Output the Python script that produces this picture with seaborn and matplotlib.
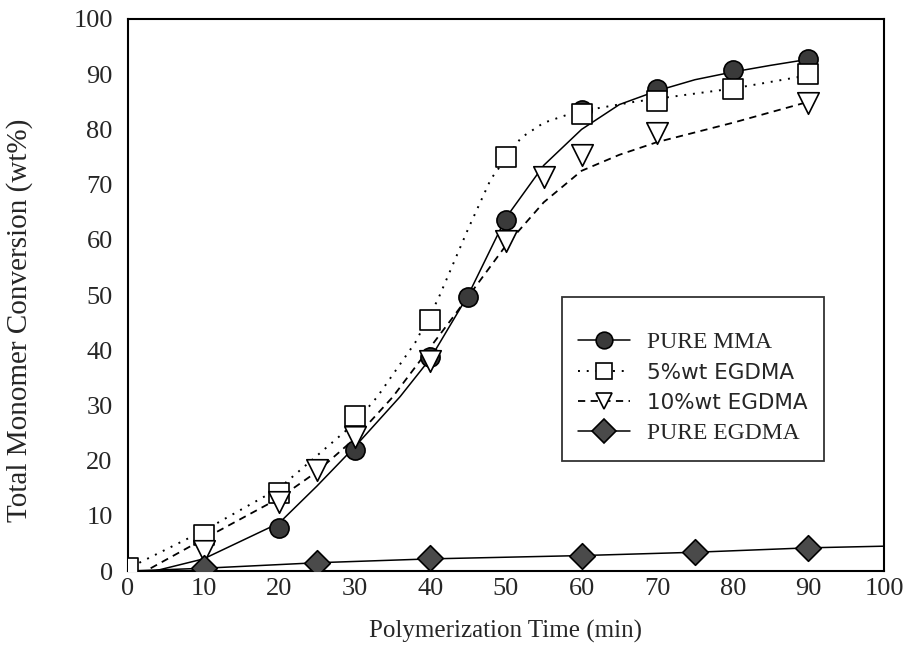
import matplotlib
matplotlib.use("Agg")
import matplotlib.pyplot as plt
from matplotlib.lines import Line2D
from matplotlib.ticker import MultipleLocator
import seaborn as sns
import pandas as pd

# ---- data ----
series_names = ["PURE MMA", "5%wt EGDMA", "10%wt EGDMA", "PURE EGDMA"]

time_mma = [20, 30, 40, 45, 50, 60, 70, 80, 90]
conv_mma = [7.8, 21.9, 38.8, 49.7, 63.6, 83.5, 87.4, 90.7, 92.7]

time_5 = [0, 10, 20, 30, 40, 50, 60, 70, 80, 90]
conv_5 = [0.5, 6.6, 14.2, 28.0, 45.5, 75.0, 82.7, 85.1, 87.3, 90.0]

time_10 = [10, 20, 25, 30, 40, 50, 55, 60, 70, 90]
conv_10 = [3.6, 12.5, 18.3, 24.2, 38.0, 59.8, 71.3, 75.4, 79.4, 84.7]

time_pe = [10, 25, 40, 60, 75, 90]
conv_pe = [0.5, 1.5, 2.3, 2.8, 3.4, 4.2]

# fitted curves as drawn in the reference
curve_t_mma = [3.5, 10, 20, 25, 30, 36, 40, 45, 50, 55, 60, 65, 70, 75, 80, 85, 90]
curve_mma = [0.0, 2.2, 8.7, 15.4, 22.5, 31.6, 38.5, 50.0, 64.0, 73.5, 80.0, 84.5, 87.0, 89.0, 90.4, 91.6, 92.7]

curve_t_5 = [1.5, 10, 20, 30, 33, 38, 41, 45, 48, 52, 55, 58, 62, 67, 74, 80, 90]
curve_5 = [1.5, 7.3, 15.0, 26.8, 31.6, 41.4, 49.2, 62.0, 71.0, 78.5, 81.2, 82.6, 83.8, 85.0, 86.3, 87.4, 89.8]

curve_t_10 = [3, 10, 20, 25, 30, 35, 43, 50, 55, 60, 65, 70, 80, 90]
curve_10 = [0.5, 5.8, 13.2, 18.0, 24.0, 31.5, 46.0, 59.0, 66.8, 72.5, 75.4, 77.7, 81.2, 85.0]

curve_t_pe = [0, 10, 25, 40, 60, 75, 90, 100]
curve_pe = [0.0, 0.5, 1.5, 2.2, 2.8, 3.4, 4.2, 4.5]

x_ticks = [0, 10, 20, 30, 40, 50, 60, 70, 80, 90, 100]
y_ticks = [0, 10, 20, 30, 40, 50, 60, 70, 80, 90, 100]

# ---- style ----
sns.set_style("white")
plt.rcParams["font.family"] = ["Liberation Serif", "DejaVu Serif"]

fig = plt.figure(figsize=(9.09, 6.5), dpi=100)
ax = fig.add_axes([0.1408, 0.1215, 0.8317, 0.8493])

line_styles = [
    dict(linestyle="-", lw=1.1),
    dict(linestyle=(0, (1, 3.5)), lw=1.4),
    dict(linestyle=(0, (4, 3)), lw=1.3),
    dict(linestyle="-", lw=1.1),
]
marker_styles = [
    dict(marker="o", s=190, color="#3a3a3a", edgecolor="black", linewidth=1.2),
    dict(marker="s", s=220, color="white", edgecolor="black", linewidth=1.2),
    dict(marker="v", s=240, color="white", edgecolor="black", linewidth=1.2),
    dict(marker="D", s=170, color="#4a4a4a", edgecolor="black", linewidth=1.2),
]

curves = [(curve_t_mma, curve_mma), (curve_t_5, curve_5),
          (curve_t_10, curve_10), (curve_t_pe, curve_pe)]
points = [(time_mma, conv_mma), (time_5, conv_5),
          (time_10, conv_10), (time_pe, conv_pe)]

for (ct, cv), ls in zip(curves, line_styles):
    df = pd.DataFrame({"t": ct, "c": cv})
    sns.lineplot(data=df, x="t", y="c", ax=ax, color="black", sort=False,
                 estimator=None, zorder=2, **ls)

for (pt, pv), ms in zip(points, marker_styles):
    df = pd.DataFrame({"t": pt, "c": pv})
    sns.scatterplot(data=df, x="t", y="c", ax=ax, zorder=3, **ms)

ax.set_xlim(0, 100)
ax.set_ylim(0, 100)
ax.set_xticks(x_ticks)
ax.set_yticks(y_ticks)
ax.xaxis.set_minor_locator(MultipleLocator(5))
ax.yaxis.set_minor_locator(MultipleLocator(5))
ax.tick_params(axis="both", which="major", direction="in", length=6, width=1.1,
               labelsize=19, top=False, right=False)
ax.tick_params(axis="x", which="major", pad=5)
ax.tick_params(axis="y", which="major", pad=11)
ax.tick_params(axis="both", which="minor", direction="in", length=3, width=1.0,
               top=False, right=False)
for sp in ax.spines.values():
    sp.set_linewidth(1.5)
    sp.set_color("black")

ax.set_xlabel("Polymerization Time (min)", fontsize=18)
ax.xaxis.set_label_coords(0.5, -0.088)
ax.set_ylabel("Total Monomer Conversion (wt%)", fontsize=21)
ax.yaxis.set_label_coords(-0.125, 0.455)

# ---- legend ----
handles = []
for ls, ms in zip(line_styles, marker_styles):
    handles.append(Line2D([0], [0], color="black", linestyle=ls["linestyle"], lw=ls["lw"],
                          marker=ms["marker"], markersize=12, markerfacecolor=ms["color"],
                          markeredgecolor="black", markeredgewidth=1.2))
leg = ax.legend(handles, series_names, loc="upper left",
                bbox_to_anchor=(0.574, 0.497), fontsize=17, frameon=True,
                fancybox=False, edgecolor="black", handlelength=2.2,
                handletextpad=0.7, labelspacing=0.4, borderpad=0.7,
                borderaxespad=0.0, title=" ", title_fontsize=7)
leg.get_frame().set_linewidth(1.3)
for i, txt in enumerate(leg.get_texts()):
    if i in (1, 2):
        txt.set_family(["DejaVu Sans"])
        txt.set_fontsize(15.5)

fig.savefig("out.png", dpi=100)
